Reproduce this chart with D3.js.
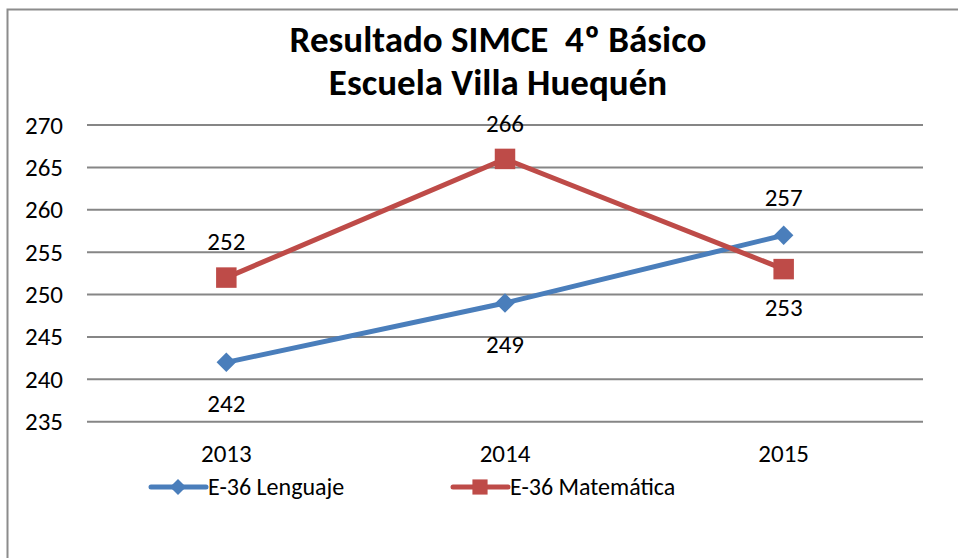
<!DOCTYPE html>
<html>
<head>
<meta charset="utf-8">
<script src="https://cdn.jsdelivr.net/npm/d3@7"></script>
<style>
  body { margin: 0; background: #fff; }
  svg { display: block; }
</style>
</head>
<body>
<svg width="958" height="558"></svg>
<script>
// chart data
const years = ['2013', '2014', '2015']
const lenguaje = [242, 249, 257]
const matematica = [252, 266, 253]
const yTicks = [235, 240, 245, 250, 255, 260, 265, 270]
const titleLines = ['Resultado SIMCE  4º Básico', 'Escuela Villa Huequén']

const font = "Carlito, Calibri, Lato, 'Open Sans', sans-serif"
const svg = d3.select('svg')

// outer frame
svg.append('rect')
  .attr('x', 7.5).attr('y', 9.5)
  .attr('width', 970).attr('height', 600)
  .attr('fill', 'none').attr('stroke', '#8c8c8c').attr('stroke-width', 2)

// title
svg.append('g').selectAll('text')
  .data(titleLines)
  .enter().append('text')
  .attr('x', 498)
  .attr('y', (d, i) => 52 + i * 43)
  .attr('text-anchor', 'middle')
  .style('white-space', 'pre')
  .style('font-family', font)
  .style('font-weight', 'bold')
  .style('font-size', '37px')
  .text(d => d)

// scales
const x = d3.scaleBand().domain(years).range([87, 923])
const y = d3.scaleLinear().domain([235, 270]).range([421.7, 125])
const cx = d => x(d) + x.bandwidth() / 2

// gridlines
svg.append('g').selectAll('line')
  .data(yTicks)
  .enter().append('line')
  .attr('x1', 87).attr('x2', 923)
  .attr('y1', d => y(d)).attr('y2', d => y(d))
  .attr('stroke', '#868686').attr('stroke-width', 2)

// y axis labels
const yAxis = svg.append('g')
  .attr('transform', 'translate(63,0)')
  .call(d3.axisLeft(y).tickValues(yTicks).tickSize(0).tickPadding(0))
yAxis.select('.domain').remove()
yAxis.selectAll('text')
  .style('font-family', font).style('font-size', '25px').attr('fill', '#000')

// x axis labels
const xAxis = svg.append('g')
  .attr('transform', 'translate(0,444)')
  .call(d3.axisBottom(x).tickSize(0).tickPadding(0))
xAxis.select('.domain').remove()
xAxis.selectAll('text')
  .style('font-family', font).style('font-size', '25px').attr('fill', '#000')

const marker = d3.symbol().type(d3.symbolSquare)

const series = [
  { name: 'E-36 Lenguaje', values: lenguaje, color: '#4a7ebb', rot: 45, size: 190, legendSize: 130, labelDy: [41, 41, -38] },
  { name: 'E-36 Matemática', values: matematica, color: '#be4b48', rot: 0, size: 420, legendSize: 230, labelDy: [-36, -36, 38] }
]

const line = d3.line()
  .x((d, i) => cx(years[i]))
  .y(d => y(d))

series.forEach(s => {
  const g = svg.append('g')
  g.append('path')
    .attr('d', line(s.values))
    .attr('fill', 'none')
    .attr('stroke', s.color)
    .attr('stroke-width', 5)

  g.selectAll('path.marker')
    .data(s.values)
    .enter().append('path')
    .classed('marker', true)
    .attr('transform', (d, i) => `translate(${cx(years[i])},${y(d)}) rotate(${s.rot})`)
    .attr('d', marker.size(s.size)())
    .attr('fill', s.color)

  g.selectAll('text')
    .data(s.values)
    .enter().append('text')
    .attr('x', (d, i) => cx(years[i]))
    .attr('y', (d, i) => y(d) + s.labelDy[i])
    .attr('dy', '0.35em')
    .attr('text-anchor', 'middle')
    .style('font-family', font).style('font-size', '25px')
    .text(d => d)
})

// legend
const legend = svg.append('g')
  .selectAll('g')
  .data(series)
  .enter().append('g')
  .attr('transform', (d, i) => `translate(${151 + i * 302},487)`)

legend.append('line')
  .attr('x1', 0).attr('x2', 55)
  .attr('stroke', d => d.color).attr('stroke-width', 5).attr('stroke-linecap', 'round')
legend.append('path')
  .attr('transform', d => `translate(27,0) rotate(${d.rot})`)
  .attr('d', d => d3.symbol().type(d3.symbolSquare).size(d.legendSize)())
  .attr('fill', d => d.color)
legend.append('text')
  .attr('x', 57).attr('dy', '0.35em')
  .style('font-family', font).style('font-size', '24px')
  .text(d => d.name)
</script>
</body>
</html>
